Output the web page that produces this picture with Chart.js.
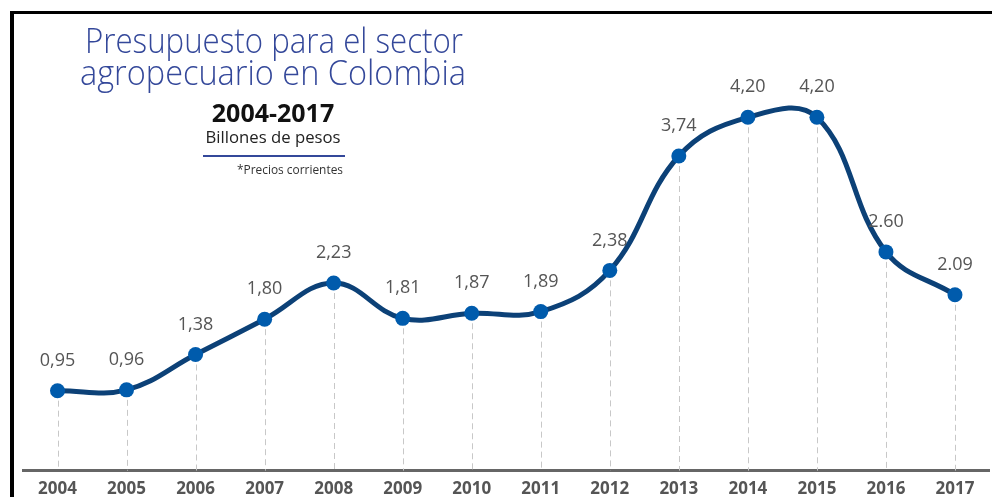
<!DOCTYPE html>
<html>
<head>
<meta charset="utf-8">
<script src="https://cdn.jsdelivr.net/npm/chart.js@4"></script>
<style>
  html, body { margin: 0; padding: 0; background: #fff; }
  #wrap { position: relative; width: 992px; height: 497px; overflow: hidden; }
  #frame { position: absolute; left: 10px; top: 11px; width: 990px; height: 500px;
           border-top: 3px solid #000; border-left: 4px solid #000; box-sizing: border-box; }
  canvas { position: absolute; left: 0; top: 0; }
</style>
</head>
<body>
<div id="wrap">
  <div id="frame"></div>
  <canvas id="myChart" width="997" height="508"></canvas>
</div>
<script>
// data
var years = ['2004','2005','2006','2007','2008','2009','2010','2011','2012','2013','2014','2015','2016','2017'];
var budget = [0.95, 0.96, 1.38, 1.80, 2.23, 1.81, 1.87, 1.89, 2.38, 3.74, 4.20, 4.20, 2.60, 2.09];
var valueLabels = ['0,95','0,96','1,38','1,80','2,23','1,81','1,87','1,89','2,38','3,74','4,20','4,20','2.60','2.09'];

var titleLines = ['Presupuesto para el sector', 'agropecuario en Colombia'];
var period = '2004-2017';
var unit = 'Billones de pesos';
var note = '*Precios corrientes';

// dashed drop lines + value labels + header text
var decor = {
	id: 'decor',
	beforeDatasetsDraw: function(chart) {
		var ctx = chart.ctx;
		var pts = chart.getDatasetMeta(0).data;
		var bottom = chart.chartArea.bottom;
		ctx.save();
		ctx.strokeStyle = '#c8c8c8';
		ctx.lineWidth = 1;
		ctx.setLineDash([6, 4]);
		for (var i = 0; i < pts.length; i++) {
			ctx.beginPath();
			ctx.moveTo(Math.round(pts[i].x) + 0.5, pts[i].y);
			ctx.lineTo(Math.round(pts[i].x) + 0.5, bottom);
			ctx.stroke();
		}
		ctx.restore();
	},
	afterDatasetsDraw: function(chart) {
		var ctx = chart.ctx;
		var pts = chart.getDatasetMeta(0).data;
		ctx.save();
		ctx.fillStyle = '#555';
		ctx.font = '18px "Open Sans"';
		ctx.textAlign = 'center';
		ctx.textBaseline = 'middle';
		for (var i = 0; i < pts.length; i++) {
			ctx.fillText(valueLabels[i], pts[i].x, pts[i].y - 30);
		}

		// header block
		ctx.fillStyle = '#34489a';
		ctx.textBaseline = 'alphabetic';
		ctx.font = '300 35px "Open Sans"';
		ctx.fillText(titleLines[0], 274, 53, 378);
		ctx.fillText(titleLines[1], 273, 85, 386);

		ctx.fillStyle = '#111';
		ctx.font = 'bold 25px "Open Sans"';
		ctx.fillText(period, 273, 122, 130);

		ctx.fillStyle = '#222';
		ctx.font = '17px "Open Sans"';
		ctx.fillText(unit, 273, 143, 135);

		ctx.strokeStyle = '#34489a';
		ctx.lineWidth = 2;
		ctx.beginPath();
		ctx.moveTo(203, 156);
		ctx.lineTo(345, 156);
		ctx.stroke();

		ctx.fillStyle = '#333';
		ctx.font = '13px "Open Sans"';
		ctx.fillText(note, 290, 174, 106);
		ctx.restore();
	}
};

var config = {
	type: 'line',
	data: {
		labels: years,
		datasets: [{
			data: budget,
			borderColor: '#0c4177',
			borderWidth: 5,
			tension: 0.4,
			pointRadius: 7.5,
			pointHoverRadius: 7.5,
			pointBackgroundColor: '#005bac',
			pointBorderColor: '#005bac',
			pointBorderWidth: 0,
			fill: false
		}]
	},
	options: {
		responsive: false,
		animation: false,
		layout: { padding: { left: 23, right: 2, top: 50, bottom: 1 } },
		plugins: { legend: { display: false }, tooltip: { enabled: false } },
		scales: {
			x: {
				offset: true,
				grid: { display: false, drawTicks: false },
				border: { display: true, color: '#666', width: 3 },
				ticks: {
					color: '#555',
					padding: 8,
					font: { family: 'Open Sans', size: 17, weight: 'bold' }
				}
			},
			y: {
				display: false,
				min: 0,
				max: 5
			}
		}
	},
	plugins: [decor]
};

var myChart = new Chart(document.getElementById('myChart'), config);
</script>
</body>
</html>
